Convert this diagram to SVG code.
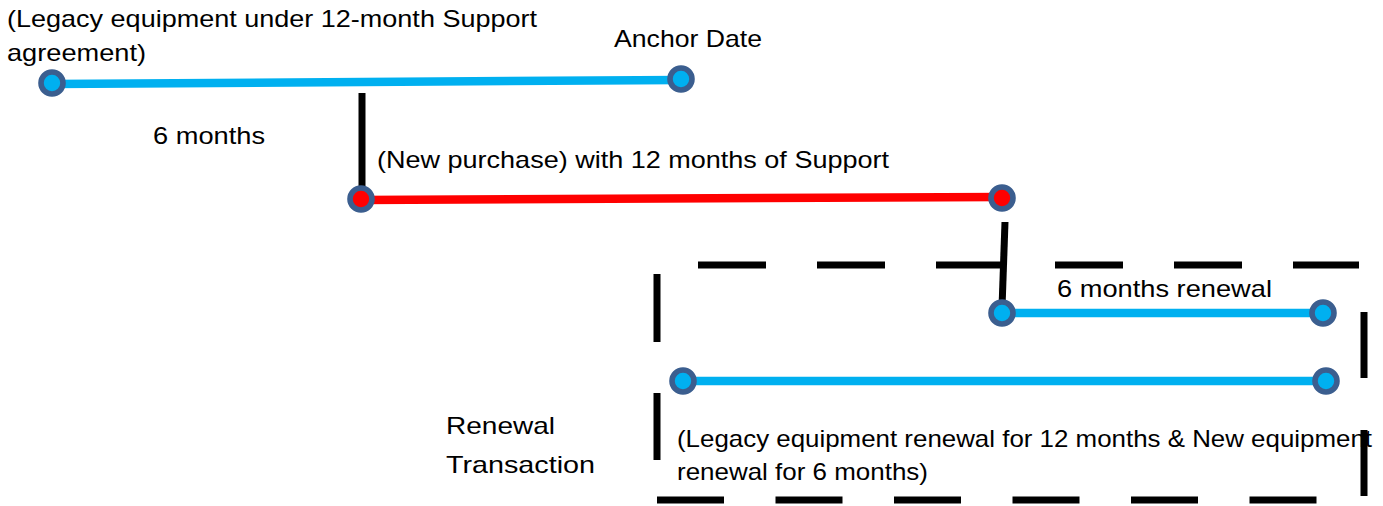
<svg xmlns="http://www.w3.org/2000/svg" width="1383" height="506" viewBox="0 0 1383 506">
<style>
text{font-family:"Liberation Sans",Arial,sans-serif;font-size:24px;fill:#000}
.pt{stroke:#3B5E8F;stroke-width:5.6}
.b{fill:#00B0F0}
.r{fill:#FF0000}
.bl{stroke:#00B0F0;stroke-width:8.5;fill:none}
.rl{stroke:#FF0000;stroke-width:8.5;fill:none}
.k{stroke:#000;stroke-width:7;fill:none}
.d{stroke:#000;stroke-width:7;fill:none}
</style>
<rect width="1383" height="506" fill="#fff"/>
<g id="connectors">
<line class="bl" x1="52" y1="84" x2="681" y2="80"/>
<line class="k" x1="362" y1="93" x2="362" y2="192"/>
<line class="rl" x1="361" y1="200" x2="1002" y2="197"/>
<line class="k" x1="1005" y1="222" x2="1002" y2="308"/>
<line class="bl" x1="1002" y1="313" x2="1323" y2="313"/>
<line class="bl" x1="683" y1="381" x2="1326" y2="381"/>
</g>
<g id="renewal-box">
<line class="d" x1="698" y1="265" x2="1359" y2="265" stroke-dasharray="68 51"/>
<line class="d" x1="657" y1="500" x2="1317" y2="500" stroke-dasharray="67 51.5"/>
<line class="d" x1="657" y1="274" x2="657" y2="460" stroke-dasharray="68 51"/>
<line class="d" x1="1364" y1="312" x2="1364" y2="497" stroke-dasharray="66 52"/>
</g>
<g id="legacy-start"><circle class="pt b" cx="52" cy="83" r="11"/></g>
<g id="anchor-date"><circle class="pt b" cx="681" cy="79" r="11"/></g>
<g id="new-purchase-start"><circle class="pt r" cx="361" cy="199" r="11"/></g>
<g id="new-purchase-end"><circle class="pt r" cx="1002" cy="198" r="11"/></g>
<g id="renewal6-start"><circle class="pt b" cx="1002" cy="313" r="11"/></g>
<g id="renewal6-end"><circle class="pt b" cx="1323" cy="313" r="11"/></g>
<g id="renewal12-start"><circle class="pt b" cx="683" cy="381" r="11"/></g>
<g id="renewal12-end"><circle class="pt b" cx="1326" cy="381" r="11"/></g>
<g id="labels">
<text x="7" y="27" textLength="530" lengthAdjust="spacingAndGlyphs">(Legacy equipment under 12-month Support</text>
<text x="7" y="61" textLength="139" lengthAdjust="spacingAndGlyphs">agreement)</text>
<text x="614" y="47" textLength="148" lengthAdjust="spacingAndGlyphs">Anchor Date</text>
<text x="153" y="144" textLength="112" lengthAdjust="spacingAndGlyphs">6 months</text>
<text x="377" y="168" textLength="512" lengthAdjust="spacingAndGlyphs">(New purchase) with 12 months of Support</text>
<text x="1057" y="297" textLength="215" lengthAdjust="spacingAndGlyphs">6 months renewal</text>
<text x="446" y="434" textLength="109" lengthAdjust="spacingAndGlyphs">Renewal</text>
<text x="446" y="473" textLength="149" lengthAdjust="spacingAndGlyphs">Transaction</text>
<text x="677" y="447" textLength="695" lengthAdjust="spacingAndGlyphs">(Legacy equipment renewal for 12 months &amp; New equipment</text>
<text x="677" y="480" textLength="251" lengthAdjust="spacingAndGlyphs">renewal for 6 months)</text>
</g>
</svg>
